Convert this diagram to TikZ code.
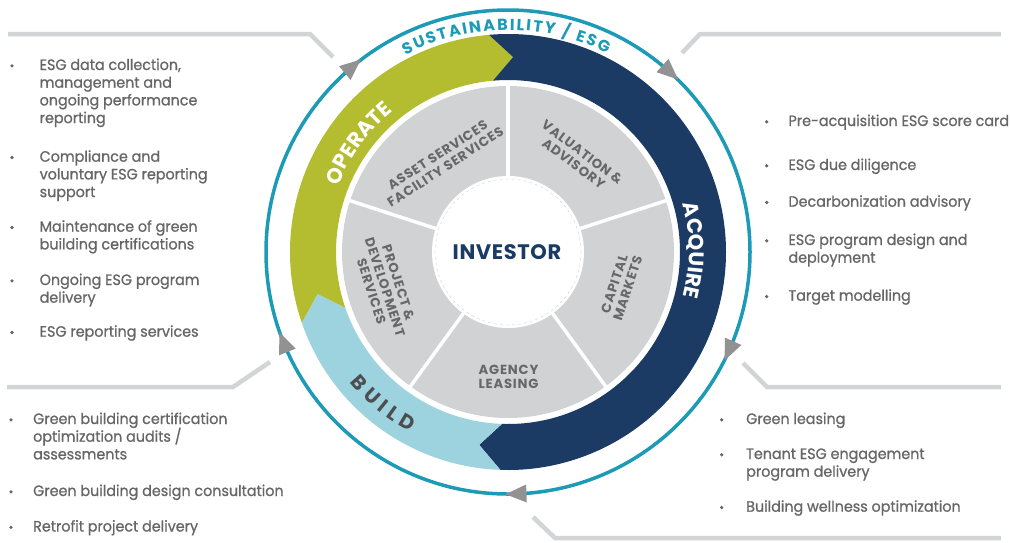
\documentclass[tikz,border=0pt]{standalone}
\usepackage{fontspec}
\setmainfont{Poppins}
\newfontfamily\bulfont{Poppins}[FakeBold=0.9, FakeStretch=0.955]
\usetikzlibrary{decorations.text}
\definecolor{navy}{HTML}{1B3A64}
\definecolor{olive}{HTML}{B4BC2F}
\definecolor{lblue}{HTML}{9CD3DF}
\definecolor{wedgegray}{HTML}{D1D2D4}
\definecolor{wedgetext}{HTML}{66676A}
\definecolor{tealc}{HTML}{1C9AB6}
\definecolor{arrgray}{HTML}{929292}
\definecolor{linegray}{HTML}{D3D4D6}
\definecolor{bultext}{HTML}{666666}
\definecolor{buildtext}{HTML}{4D4E50}
\newcommand\bandseg[3]{%
  \fill[#1] (#2:218pt) arc[start angle=#2, end angle=#3, radius=218pt]
    -- ({#3-6.5}:195pt) -- (#3:172pt)
    arc[start angle=#3, end angle=#2, radius=172pt]
    -- ({#2-6.5}:195pt) -- cycle;}
\newcommand\bulline[4]{\node[btext] (#1) at (#2,-#3) {#4};}
\newcommand\bulldot[3]{\node[bdot] (#1) at (#2,{-(#3-4.2)}) {};}
\begin{document}
\begin{tikzpicture}[x=1pt,y=1pt,
  btext/.style={anchor=base west, inner sep=0pt, text=bultext, font=\bulfont\fontsize{15}{17.7}\selectfont},
  bdot/.style={circle, fill=bultext, inner sep=0pt, minimum size=3.6pt},
  wlabel/.style={text=wedgetext, inner sep=0pt, align=center,
    font=\fontsize{13.2}{14.2}\selectfont\bfseries\addfontfeatures{LetterSpace=6}},
  conn/.style={draw=linegray, line width=4.5pt},
  ring/.style={draw=tealc, line width=3.5pt},
  arrowhd/.style={fill=arrgray},
]
\useasboundingbox (0,0) rectangle (1010,-542);
\coordinate (C) at (508,-252);

\begin{scope}[shift={(C)}]
  % outer sustainability ring
  \draw[ring] (0,0) circle[radius=242pt];
  \foreach \a in {130,48,-24,-88,202}
    \fill[arrowhd, shift={(\a:242pt)}, rotate=\a-90] (11pt,0) -- (-10pt,9pt) -- (-10pt,-9pt) -- cycle;
  % band segments
  \bandseg{olive}{199}{95}
  \bandseg{navy}{95}{-92}
  \bandseg{lblue}{268}{199}
  % gray wedges
  \fill[wedgegray] (0,0) circle[radius=166pt];
  \foreach \a in {90,18,-54,-126,162}
    \draw[white, line width=3.5pt] (\a:60pt) -- (\a:170pt);
  \fill[white] (0,0) circle[radius=76pt];
  \draw[black!22, dashed, line width=0.3pt] (0,0) circle[radius=73pt];
  % band labels
  \path[decorate, decoration={text along path, text align=center,
      text={|\color{white}\fontsize{21}{21}\selectfont\bfseries|OPERATE}}]
      (194:182pt) arc[start angle=194, end angle=94, radius=182pt];
  \path[decorate, decoration={text along path, text align=center,
      text={|\color{white}\fontsize{21}{21}\selectfont\bfseries|ACQUIRE}}]
      (50.5:181pt) arc[start angle=50.5, end angle=-49.5, radius=181pt];
  \path[decorate, decoration={text along path, text align=fit to path,
      text={|\color{buildtext}\fontsize{20}{20}\selectfont\bfseries|BUILD}}]
      (219.5:205pt) arc[start angle=219.5, end angle=241.5, radius=205pt];
  \path[decorate, decoration={text along path, text align=fit to path,
      text={|\color{tealc}\fontsize{16}{16}\selectfont\bfseries|SUSTAINABILITY / ESG}}]
      (117.5:222pt) arc[start angle=117.5, end angle=63.5, radius=222pt];
\end{scope}

\node[text=navy, font=\fontsize{21}{21}\selectfont\bfseries\addfontfeatures{LetterSpace=3}] (inv) at (507,-252) {INVESTOR};

\node[wlabel, rotate=33] (asset) at (441.5,-161) {ASSET SERVICES\\FACILITY SERVICES};
\node[wlabel, rotate=-37] (valu) at (578,-158) {VALUATION \&\\ADVISORY};
\node[wlabel, rotate=72] (capm) at (621,-286) {CAPITAL\\MARKETS};
\node[wlabel] (agency) at (508.5,-377) {AGENCY\\LEASING};
\node[wlabel, rotate=-72] (proj) at (385,-287) {PROJECT \&\\DEVELOPMENT\\SERVICES};

% connector lines
\draw[conn] (8,-34) -- (310,-34) -- (333,-57);
\draw[conn] (682,-53) -- (700,-34) -- (1001,-34);
\draw[conn] (743,-363) -- (767,-387) -- (1001,-387);
\draw[conn] (533,-517) -- (555,-538) -- (1001,-538);
\draw[conn] (7,-387) -- (233,-387) -- (270,-362);

% left upper block
\bulldot{d1}{12}{70}
\bulline{l1a}{39.5}{70}{ESG data collection,}
\bulline{l1b}{39.5}{87.7}{management and}
\bulline{l1c}{39.5}{105.4}{ongoing performance}
\bulline{l1d}{39.5}{123.1}{reporting}
\bulldot{d2}{12}{161.7}
\bulline{l2a}{39.5}{161.7}{Compliance and}
\bulline{l2b}{39.5}{179.4}{voluntary ESG reporting}
\bulline{l2c}{39.5}{197.1}{support}
\bulldot{d3}{12}{231.7}
\bulline{l3a}{39.5}{231.7}{Maintenance of green}
\bulline{l3b}{39.5}{249.4}{building certifications}
\bulldot{d4}{12}{285}
\bulline{l4a}{39.5}{285}{Ongoing ESG program}
\bulline{l4b}{39.5}{302.7}{delivery}
\bulldot{d5}{12}{336.7}
\bulline{l5a}{39.5}{336.7}{ESG reporting services}

% right upper block
\bulldot{r1d}{766.7}{126}
\bulline{r1}{788.3}{126}{Pre-acquisition ESG score card}
\bulldot{r2d}{766.7}{170}
\bulline{r2}{788.3}{170}{ESG due diligence}
\bulldot{r3d}{766.7}{206.7}
\bulline{r3}{788.3}{206.7}{Decarbonization advisory}
\bulldot{r4d}{766.7}{245}
\bulline{r4a}{788.3}{245}{ESG program design and}
\bulline{r4b}{788.3}{262.7}{deployment}
\bulldot{r5d}{766.7}{300.7}
\bulline{r5}{788.3}{300.7}{Target modelling}

% bottom left block
\bulldot{b1d}{11}{424}
\bulline{b1a}{33}{424}{Green building certification}
\bulline{b1b}{33}{441.7}{optimization audits /}
\bulline{b1c}{33}{459.4}{assessments}
\bulldot{b2d}{11}{496}
\bulline{b2}{33}{496}{Green building design consultation}
\bulldot{b3d}{11}{531.5}
\bulline{b3}{33}{531.5}{Retrofit project delivery}

% bottom right block
\bulldot{s1d}{721.7}{424}
\bulline{s1}{746}{424}{Green leasing}
\bulldot{s2d}{721.7}{459}
\bulline{s2a}{746}{459}{Tenant ESG engagement}
\bulline{s2b}{746}{476.7}{program delivery}
\bulldot{s3d}{721.7}{511.7}
\bulline{s3}{746}{511.7}{Building wellness optimization}
\end{tikzpicture}
\end{document}
